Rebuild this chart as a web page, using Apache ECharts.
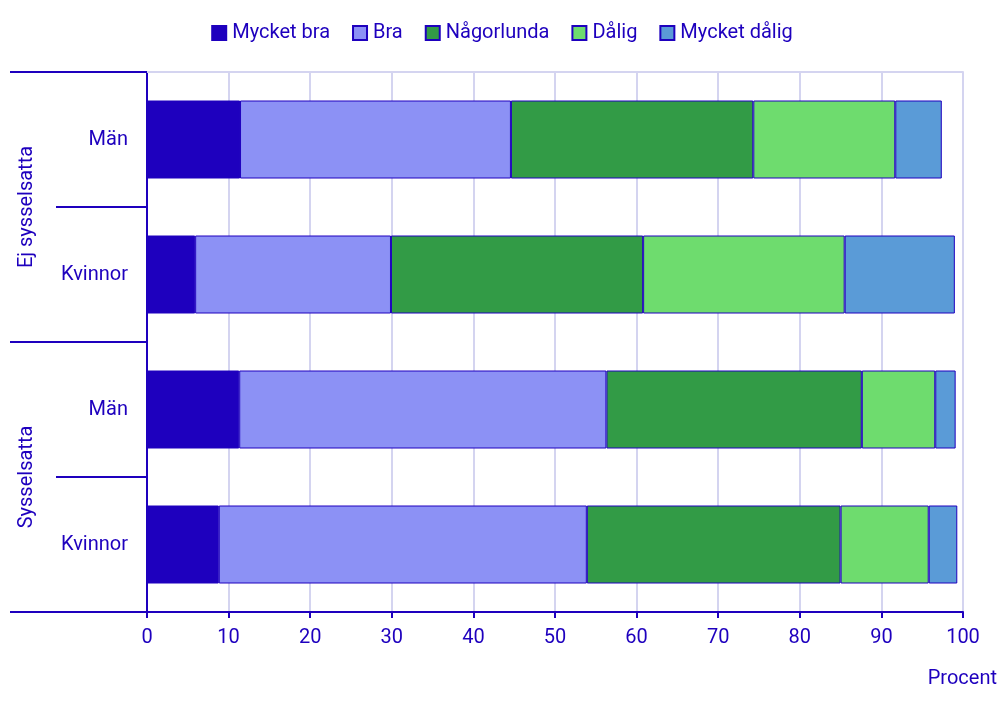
<!DOCTYPE html>
<html>
<head>
<meta charset="utf-8">
<script src="https://cdn.jsdelivr.net/npm/echarts@6/dist/echarts.min.js"></script>
<style>html,body{margin:0;padding:0;background:#fff}#c{width:1004px;height:709px}</style>
</head>
<body>
<div id="c"></div>
<script>
const groups = ['Ej sysselsatta', 'Sysselsatta'];
const categories = ['Ej sysselsatta|Män', 'Ej sysselsatta|Kvinnor', 'Sysselsatta|Män', 'Sysselsatta|Kvinnor'];
const seriesNames = ['Mycket bra', 'Bra', 'Någorlunda', 'Dålig', 'Mycket dålig'];
const mycketBra   = [11.4, 5.9, 11.3, 8.8];
const bra         = [33.2, 24.0, 45.0, 45.1];
const nagorlunda  = [29.7, 30.9, 31.3, 31.1];
const dalig       = [17.4, 24.7, 9.0, 10.8];
const mycketDalig = [5.7, 13.5, 2.5, 3.5];
const xTicks = [0, 10, 20, 30, 40, 50, 60, 70, 80, 90, 100];

const TXT = '#1e00be';
const GRID = '#d4d4f0';
const FS = 20;
const colors = ['#1e00be', '#8c91f5', '#329b46', '#6edc6e', '#5a9bd7'];
const values = [mycketBra, bra, nagorlunda, dalig, mycketDalig];

const chart = echarts.init(document.getElementById('c'), null, {renderer: 'canvas'});
chart.setOption({
  animation: false,
  textStyle: {fontFamily: 'Roboto', color: TXT},
  legend: {
    top: 18, left: 'center',
    icon: 'rect',
    itemWidth: 14, itemHeight: 14, itemGap: 22,
    textStyle: {fontSize: FS, color: TXT, fontFamily: 'Roboto', padding: [0, 0, 0, 1]},
    data: seriesNames
  },
  grid: {left: 147, right: 41, top: 72, bottom: 97, containLabel: false},
  xAxis: [
    {
      type: 'value', min: xTicks[0], max: xTicks[xTicks.length - 1], interval: 10,
      name: 'Procent', nameLocation: 'end', nameGap: 34,
      nameTextStyle: {fontSize: FS, color: TXT, align: 'right', verticalAlign: 'top', padding: [57, 0, 0, 0]},
      axisLine: {show: true, lineStyle: {color: TXT, width: 2}},
      axisTick: {show: true, length: 6, lineStyle: {color: TXT, width: 2}},
      axisLabel: {fontSize: FS, color: TXT, margin: 16},
      splitLine: {show: true, lineStyle: {color: GRID, width: 2}}
    },
    {
      type: 'value', position: 'top', min: xTicks[0], max: xTicks[xTicks.length - 1], interval: 10,
      axisLine: {show: true, lineStyle: {color: GRID, width: 2}},
      axisTick: {show: false}, axisLabel: {show: false}, splitLine: {show: false}
    }
  ],
  yAxis: [
    {
      type: 'category', data: categories, inverse: true,
      axisLine: {show: true, lineStyle: {color: TXT, width: 2}},
      axisTick: {show: true, length: 91, lineStyle: {color: TXT, width: 2}},
      axisLabel: {fontSize: FS, color: TXT, margin: 19, formatter: v => v.split('|')[1]},
      splitLine: {show: false}
    },
    {
      type: 'category', data: groups, inverse: true, position: 'left',
      axisLine: {show: false},
      axisTick: {show: true, length: 137, lineStyle: {color: TXT, width: 2}},
      axisLabel: {fontSize: FS, color: TXT, rotate: 90, margin: 110},
      splitLine: {show: false}
    }
  ],
  series: seriesNames.map((n, i) => ({
    name: n, type: 'bar', stack: 'total', xAxisIndex: 0, yAxisIndex: 0,
    barWidth: 78,
    data: values[i],
    itemStyle: {color: colors[i], borderColor: TXT, borderWidth: 1}
  }))
});
</script>
</body>
</html>
